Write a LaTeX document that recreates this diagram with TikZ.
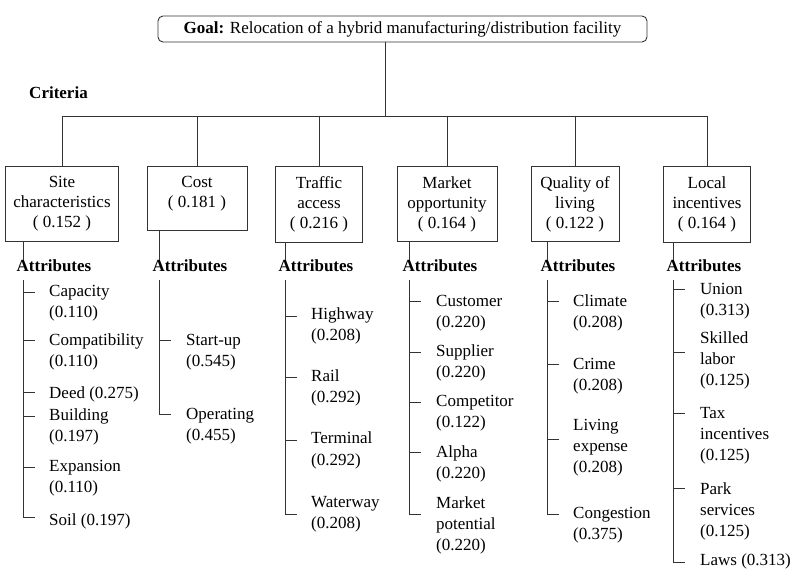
\documentclass[tikz,border=0pt]{standalone}
\usepackage{fontspec}
\setmainfont{Liberation Serif}
\usetikzlibrary{positioning}

\tikzset{
  link/.style={line width=0.9pt,black!80},
  crit/.style={draw=black!80,line width=0.9pt,align=center,inner sep=0pt,anchor=north,
    font=\fontsize{17}{20}\selectfont},
  attr/.style={anchor=west,inner sep=0pt,font=\bfseries\fontsize{17}{21}\selectfont},
  item/.style={anchor=north west,align=left,inner sep=0pt,
    font=\fontsize{17}{21}\selectfont,execute at begin node=\strut}
}

\begin{document}
\begin{tikzpicture}[x=1pt,y=-1pt]
  \useasboundingbox (0,0) rectangle (794,572);
  \node[draw=black!80,line width=0.9pt,rounded corners=5pt,minimum width=489pt,minimum height=26pt,
    inner sep=0pt,font=\fontsize{17}{20}\selectfont] (goal) at (402.5,29)
    {\textbf{Goal:} Relocation of a hybrid manufacturing/distribution facility};
  \node[font=\bfseries\fontsize{17}{20}\selectfont,inner sep=0pt] (criteria) at (58.5,93) {Criteria};
  \coordinate (bar) at (385,116);
  \foreach \n/\x/\w/\h/\txt in {
      site/62/113/75/{Site\\characteristics\\( 0.152 )},
      cost/197/100/64/{Cost\\( 0.181 )\\[-7pt]\mbox{}},
      traf/319/87/76/{Traffic\\access\\( 0.216 )},
      mark/447/100/75/{Market\\opportunity\\( 0.164 )},
      qual/575/88/75/{Quality of\\living\\( 0.122 )},
      loc/707/87/76/{Local\\incentives\\( 0.164 )}} {
    \node[crit,minimum width=\w pt,minimum height=\h pt] (\n) at (\x,166) {\txt};
  }
  \draw[link] (goal.south -| bar) -- (bar);
  \draw[link] (site.north |- bar) -- (loc.north |- bar);
  \foreach \n in {site,cost,traf,mark,qual,loc}
    \draw[link] (\n.north |- bar) -- (\n.north);
  \foreach \n/\s in {site/23,cost/159,traf/285,mark/409,qual/547,loc/673} {
    \node[attr] (a-\n) at ({\s-6.5},266) {Attributes};
    \coordinate (sp-\n) at (\s,280);
    \draw[link] (\n.south -| sp-\n) -- (a-\n.north -| sp-\n);
  }

  \foreach \i/\t/\k/\txt in {1/285/292/{Capacity\\(0.110)}, 2/334/340/{Compatibility\\(0.110)},
      3/384/392/{Deed (0.275)}, 4/408/416/{Building\\(0.197)}, 5/460/467/{Expansion\\(0.110)},
      6/511/517/{Soil (0.197)}} {
    \node[item] (site-\i) at (49,\t) {\txt};
    \coordinate (tk-site-\i) at (23,\k);
    \draw[link] (tk-site-\i) -- ++(12,0);
  }
  \draw[link] (sp-site) -- (tk-site-6) -- ++(12,0);

  \foreach \i/\t/\k/\txt in {1/334/340/{Start-up\\(0.545)}, 2/408/414/{Operating\\(0.455)}} {
    \node[item] (cost-\i) at (186,\t) {\txt};
    \coordinate (tk-cost-\i) at (159,\k);
    \draw[link] (tk-cost-\i) -- ++(12,0);
  }
  \draw[link] (sp-cost) -- (tk-cost-2) -- ++(12,0);

  \foreach \i/\t/\k/\txt in {1/308/316/{Highway\\(0.208)}, 2/370/377/{Rail\\(0.292)},
      3/432/440/{Terminal\\(0.292)}, 4/496/514/{Waterway\\(0.208)}} {
    \node[item] (traf-\i) at (311,\t) {\txt};
    \coordinate (tk-traf-\i) at (285,\k);
    \draw[link] (tk-traf-\i) -- ++(12,0);
  }
  \draw[link] (sp-traf) -- (tk-traf-4) -- ++(12,0);

  \foreach \i/\t/\k/\txt in {1/295/301/{Customer\\(0.220)}, 2/345/352/{Supplier\\(0.220)},
      3/395/402/{Competitor\\(0.122)}, 4/445/452/{Alpha\\(0.220)},
      5/496/514/{Market\\potential\\(0.220)}} {
    \node[item] (mark-\i) at (436,\t) {\txt};
    \coordinate (tk-mark-\i) at (409,\k);
    \draw[link] (tk-mark-\i) -- ++(12,0);
  }
  \draw[link] (sp-mark) -- (tk-mark-5) -- ++(12,0);

  \foreach \i/\t/\k/\txt in {1/295/301/{Climate\\(0.208)}, 2/358/364/{Crime\\(0.208)},
      3/419/439/{Living\\expense\\(0.208)}, 4/507/514/{Congestion\\(0.375)}} {
    \node[item] (qual-\i) at (573,\t) {\txt};
    \coordinate (tk-qual-\i) at (547,\k);
    \draw[link] (tk-qual-\i) -- ++(12,0);
  }
  \draw[link] (sp-qual) -- (tk-qual-4) -- ++(12,0);

  \foreach \i/\t/\k/\txt in {1/283/289/{Union\\(0.313)}, 2/332/352/{Skilled\\labor\\(0.125)},
      3/407/413/{Tax\\incentives\\(0.125)}, 4/482/488/{Park\\services\\(0.125)},
      5/551/562/{Laws (0.313)}} {
    \node[item] (loc-\i) at (700,\t) {\txt};
    \coordinate (tk-loc-\i) at (673,\k);
    \draw[link] (tk-loc-\i) -- ++(12,0);
  }
  \draw[link] (sp-loc) -- (tk-loc-5) -- ++(12,0);
\end{tikzpicture}
\end{document}
